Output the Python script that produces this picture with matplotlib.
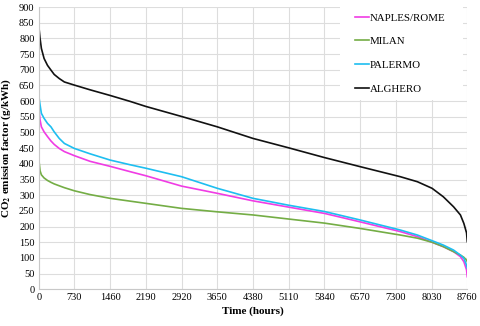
import matplotlib
matplotlib.use("Agg")
import matplotlib.pyplot as plt
from matplotlib.patches import Rectangle

plt.rcParams['font.family'] = ['Liberation Serif', 'DejaVu Serif']
plt.rcParams['mathtext.fontset'] = 'stix'

# hours (sorted duration curve) and emission factor per site
hours = [0, 28, 55, 110, 180, 250, 317, 420, 525, 730, 1050, 1460, 1870, 2190,
         2920, 3650, 4380, 5110, 5840, 6570, 7390, 7740, 8040, 8270, 8480,
         8620, 8690, 8745, 8760]
naples_rome = [582, 540, 518, 502, 487, 473, 462, 449, 439, 426, 408, 392, 375,
               362, 329, 306, 282, 262, 242, 215, 184, 168, 150, 136, 120, 104,
               88, 62, 40]
milan = [418, 378, 365, 355, 347, 341, 336, 330, 324, 314, 302, 290, 281, 274,
         258, 247, 237, 224, 211, 194, 173, 163, 150, 136, 120, 109, 102, 93, 88]
palermo = [619, 588, 561, 545, 529, 518, 502, 481, 465, 449, 432, 412, 397,
           386, 359, 322, 290, 268, 248, 221, 189, 173, 155, 141, 125, 109, 99,
           77, 67]
alghero = [843, 800, 768, 736, 714, 699, 685, 672, 661, 651, 636, 618, 599,
           583, 551, 518, 481, 451, 420, 391, 359, 343, 322, 295, 263, 237,
           210, 180, 152]

xticks = list(range(0, 8761, 730))
yticks = list(range(0, 901, 50))

fig = plt.figure(figsize=(4.8, 3.26), dpi=100)
ax = fig.add_axes([0.0806, 0.1126, 0.8929, 0.8659])

ax.plot(hours, naples_rome, color='#f03ce4', lw=1.2, label='NAPLES/ROME')
ax.plot(hours, milan, color='#74ad45', lw=1.2, label='MILAN')
ax.plot(hours, palermo, color='#1ebef0', lw=1.2, label='PALERMO')
ax.plot(hours, alghero, color='#111111', lw=1.2, label='ALGHERO')

ax.set_xlim(0, 8760)
ax.set_ylim(0, 900)
ax.set_xticks(xticks)
ax.set_yticks(yticks)
ax.tick_params(labelsize=7.5, length=0, pad=3)
ax.grid(True, color='#dddddd', lw=0.8)
ax.set_axisbelow(True)
for s in ['top', 'right']:
    ax.spines[s].set_visible(False)
for s in ['left', 'bottom']:
    ax.spines[s].set_color('#c8c8c8')
    ax.spines[s].set_linewidth(0.8)

ax.set_xlabel('Time (hours)', fontsize=8, fontweight='bold', labelpad=3)
ax.set_ylabel(r'CO$_\mathbf{2}$ emission factor (g/kWh)', fontsize=8,
              fontweight='bold', labelpad=4)

# white legend area hiding the grid
ax.add_patch(Rectangle((0.703, 0.67), 0.287, 0.33, transform=ax.transAxes,
                       facecolor='white', edgecolor='none', zorder=1.5))
ax.legend(loc='upper left', bbox_to_anchor=(0.738, 0.979), fontsize=7.8,
          frameon=False, handlelength=1.3, handletextpad=0.1,
          labelspacing=1.3, borderaxespad=0, borderpad=0)

fig.savefig('out.png', dpi=100)
